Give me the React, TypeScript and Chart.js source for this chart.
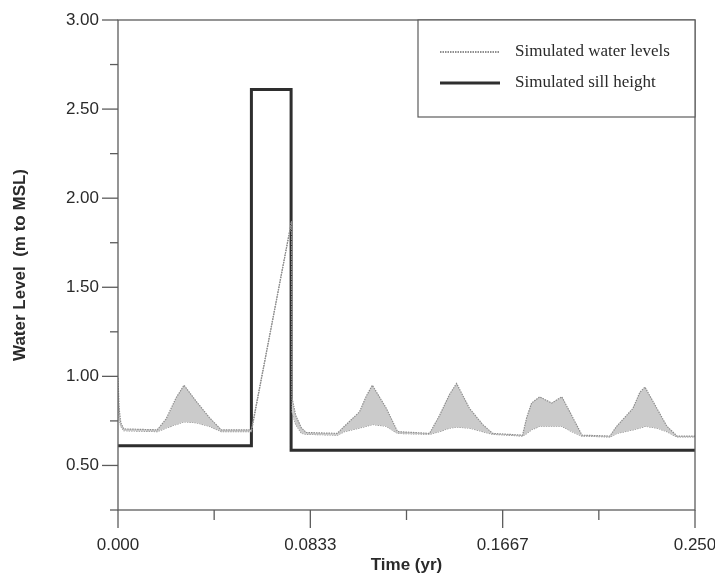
import React, { useEffect, useRef } from 'react';
import { Chart, registerables } from 'chart.js';

Chart.register(...registerables);

// ---- data ----
const seriesNames = ['Simulated water levels', 'Simulated sill height'];

const waterTime = [
  0, 0.0005, 0.0012, 0.0025,
  0.0170, 0.0208, 0.0252, 0.0286, 0.0339, 0.0395, 0.0447,
  0.0578, 0.0752, 0.0754, 0.0770, 0.0795, 0.0816,
  0.0950, 0.0981, 0.1046, 0.1076, 0.1102, 0.1163, 0.1211,
  0.1350, 0.1393, 0.1437, 0.1467, 0.1523, 0.1580, 0.1623,
  0.1753, 0.1771, 0.1792, 0.1827, 0.1879, 0.1923, 0.1966, 0.2010,
  0.2131, 0.2161, 0.2231, 0.2261, 0.2283, 0.2335, 0.2378, 0.2422,
  0.2500,
];
const waterHigh = [
  0.99, 0.82, 0.74, 0.705,
  0.70, 0.76, 0.88, 0.95, 0.86, 0.77, 0.70,
  0.70, 1.87, 0.88, 0.78, 0.71, 0.685,
  0.68, 0.72, 0.80, 0.89, 0.95, 0.82, 0.69,
  0.68, 0.78, 0.90, 0.96, 0.82, 0.73, 0.68,
  0.67, 0.77, 0.85, 0.885, 0.85, 0.885, 0.78, 0.67,
  0.665, 0.72, 0.82, 0.91, 0.94, 0.82, 0.72, 0.665,
  0.665,
];
const waterLow = [
  0.90, 0.76, 0.72, 0.695,
  0.69, 0.71, 0.73, 0.745, 0.74, 0.72, 0.69,
  0.69, 1.87, 0.80, 0.73, 0.68, 0.675,
  0.67, 0.69, 0.71, 0.72, 0.73, 0.72, 0.68,
  0.675, 0.69, 0.71, 0.715, 0.71, 0.69, 0.675,
  0.665, 0.68, 0.70, 0.72, 0.72, 0.72, 0.69, 0.665,
  0.66, 0.68, 0.70, 0.71, 0.72, 0.71, 0.69, 0.66,
  0.66,
];

const sillTime = [0, 0.0578, 0.0578, 0.0750, 0.0750, 0.25];
const sillLevel = [0.61, 0.61, 2.61, 2.61, 0.585, 0.585];

const xTickValues = [0, 0.0416667, 0.0833333, 0.125, 0.1666667, 0.2083333, 0.25];
const xTickLabels = ['0.000', '', '0.0833', '', '0.1667', '', '0.250'];
const yTickValues = [0.25, 0.5, 0.75, 1.0, 1.25, 1.5, 1.75, 2.0, 2.25, 2.5, 2.75, 3.0];
const yTickLabels = ['', '0.50', '', '1.00', '', '1.50', '', '2.00', '', '2.50', '', '3.00'];

const xTitle = 'Time (yr)';
const yTitle = 'Water Level  (m to MSL)';

// ---- styles ----
const AXIS_COLOR = '#5c5c5c';
const TEXT_COLOR = '#2a2a2a';
const WATER_LINE = '#8e8e8e';
const WATER_FILL = '#cbcbcb';
const SILL_COLOR = '#2e2e2e';
const SANS = '"Liberation Sans", Arial, sans-serif';

const frameTicksPlugin = {
  id: 'frameTicks',
  afterDraw(chart: any) {
    const { ctx, chartArea: a, scales } = chart;
    const xs = scales.x;
    const ys = scales.y;
    ctx.save();
    ctx.strokeStyle = AXIS_COLOR;
    ctx.lineWidth = 1.3;
    ctx.strokeRect(a.left, a.top, a.right - a.left, a.bottom - a.top);
    xs.ticks.forEach((t: any, i: number) => {
      const px = xs.getPixelForValue(t.value);
      const len = i % 2 === 0 ? 18 : 10;
      ctx.beginPath();
      ctx.moveTo(px, a.bottom);
      ctx.lineTo(px, a.bottom + len);
      ctx.stroke();
    });
    ys.ticks.forEach((t: any, i: number) => {
      const py = ys.getPixelForValue(t.value);
      const len = yTickLabels[i] ? 16 : 8;
      ctx.beginPath();
      ctx.moveTo(a.left, py);
      ctx.lineTo(a.left - len, py);
      ctx.stroke();
    });
    ctx.restore();
  },
};

const legendBoxPlugin = {
  id: 'legendBox',
  afterDraw(chart: any) {
    const { ctx, chartArea: a } = chart;
    const w = 277;
    const h = 97;
    const left = a.right - w;
    const top = a.top;
    ctx.save();
    ctx.fillStyle = '#ffffff';
    ctx.fillRect(left, top, w, h);
    ctx.strokeStyle = AXIS_COLOR;
    ctx.lineWidth = 1.2;
    ctx.strokeRect(left, top, w, h);

    const rows = [top + 32, top + 63];
    ctx.strokeStyle = WATER_LINE;
    ctx.lineWidth = 2;
    ctx.setLineDash([1.5, 1]);
    ctx.beginPath();
    ctx.moveTo(left + 22, rows[0]);
    ctx.lineTo(left + 82, rows[0]);
    ctx.stroke();
    ctx.setLineDash([]);
    ctx.strokeStyle = SILL_COLOR;
    ctx.lineWidth = 3;
    ctx.beginPath();
    ctx.moveTo(left + 22, rows[1]);
    ctx.lineTo(left + 82, rows[1]);
    ctx.stroke();

    ctx.fillStyle = TEXT_COLOR;
    ctx.font = '17px "Liberation Serif", serif';
    ctx.textBaseline = 'middle';
    ctx.textAlign = 'left';
    ctx.fillText(seriesNames[0], left + 97, rows[0]);
    ctx.fillText(seriesNames[1], left + 97, rows[1]);
    ctx.restore();
  },
};

export default function App() {
  const canvasRef = useRef<HTMLCanvasElement | null>(null);

  useEffect(() => {
    if (!canvasRef.current) return;
    const highPts = waterTime.map((t, i) => ({ x: t, y: waterHigh[i] }));
    const lowPts = waterTime.map((t, i) => ({ x: t, y: waterLow[i] }));
    const sillPts = sillTime.map((t, i) => ({ x: t, y: sillLevel[i] }));

    const chart = new Chart(canvasRef.current, {
      type: 'line',
      data: {
        datasets: [
          {
            label: seriesNames[0],
            data: highPts,
            borderColor: WATER_LINE,
            borderWidth: 1.2,
            borderDash: [1.5, 1],
            backgroundColor: WATER_FILL,
            fill: '+1',
            pointRadius: 0,
            tension: 0,
          },
          {
            label: seriesNames[0] + ' (low)',
            data: lowPts,
            borderColor: WATER_LINE,
            borderWidth: 1.2,
            borderDash: [1.5, 1],
            fill: false,
            pointRadius: 0,
            tension: 0,
          },
          {
            label: seriesNames[1],
            data: sillPts,
            borderColor: SILL_COLOR,
            borderWidth: 3,
            fill: false,
            pointRadius: 0,
            tension: 0,
          },
        ],
      },
      options: {
        animation: false,
        responsive: true,
        maintainAspectRatio: false,
        layout: { padding: { top: 20, right: 20, bottom: 0, left: 0 } },
        plugins: {
          legend: { display: false },
          tooltip: { enabled: false },
        },
        scales: {
          x: {
            type: 'linear',
            min: 0,
            max: 0.25,
            afterBuildTicks: (scale: any) => {
              scale.ticks = xTickValues.map((v) => ({ value: v }));
            },
            afterFit: (scale: any) => {
              scale.height = 68;
              scale.paddingLeft = 0;
              scale.paddingRight = 0;
            },
            grid: { display: false, drawTicks: false },
            border: { display: false },
            ticks: {
              autoSkip: false,
              maxRotation: 0,
              padding: 25,
              color: TEXT_COLOR,
              font: { family: SANS, size: 17 },
              callback: (_v: any, i: number) => xTickLabels[i],
            },
            title: {
              display: true,
              text: xTitle,
              color: TEXT_COLOR,
              font: { family: SANS, size: 17, weight: 'bold' },
              padding: { top: 0, bottom: 2 },
            },
          },
          y: {
            type: 'linear',
            min: 0.25,
            max: 3.0,
            afterBuildTicks: (scale: any) => {
              scale.ticks = yTickValues.map((v) => ({ value: v }));
            },
            afterFit: (scale: any) => {
              scale.width = 118;
              scale.paddingTop = 0;
              scale.paddingBottom = 0;
            },
            grid: { display: false, drawTicks: false },
            border: { display: false },
            ticks: {
              autoSkip: false,
              padding: 19,
              color: TEXT_COLOR,
              font: { family: SANS, size: 17 },
              callback: (_v: any, i: number) => yTickLabels[i],
            },
            title: {
              display: true,
              text: yTitle,
              color: TEXT_COLOR,
              font: { family: SANS, size: 17, weight: 'bold' },
              padding: { top: 10, bottom: 0 },
            },
          },
        },
      },
      plugins: [frameTicksPlugin, legendBoxPlugin],
    });

    return () => chart.destroy();
  }, []);

  return (
    <div style={{ position: 'absolute', left: 0, top: 0, width: 715, height: 578, background: '#ffffff' }}>
      <canvas ref={canvasRef} />
    </div>
  );
}
